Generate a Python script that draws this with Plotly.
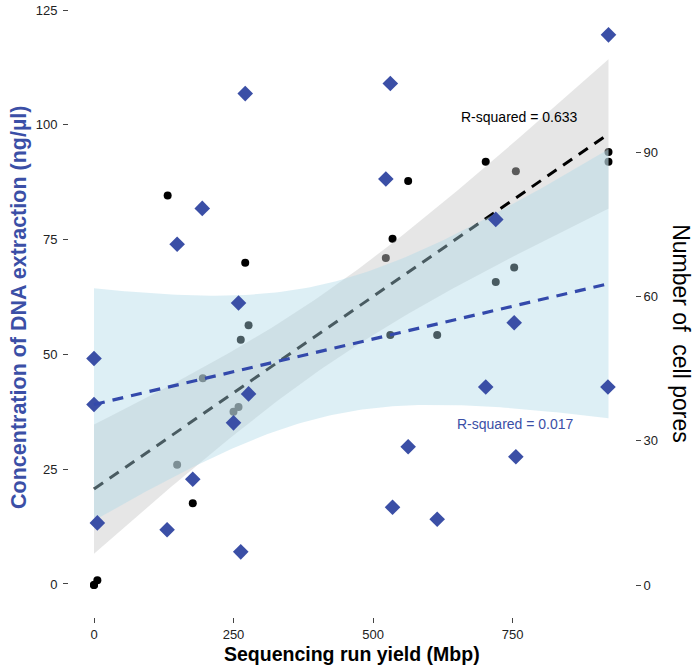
import numpy as np
import plotly.graph_objects as go

# ---- data ----
# DNA concentration (ng/µl) vs sequencing run yield (Mbp)  -> blue diamonds, left axis
yield_conc = [0, 0, 6, 131, 149, 177, 194, 250, 259, 263, 271, 277,
              523, 531, 535, 563, 615, 702, 720, 753, 756, 922, 921]
conc = [49.1, 39.1, 13.3, 11.8, 74.0, 22.8, 81.8, 35.1, 61.2, 7.0, 106.8, 41.4,
        88.2, 109.0, 16.7, 29.9, 14.1, 42.9, 79.4, 56.9, 27.7, 119.6, 42.9]

# Number of cell pores vs sequencing run yield (Mbp) -> black dots, right axis
yield_pores = [0, 0, 6, 132, 149, 177, 195, 250, 259, 263, 271, 277,
               523, 531, 535, 563, 615, 702, 720, 753, 756, 922, 922]
pores = [0, 0, 1, 81, 25, 17, 43, 36, 37, 51, 67, 54,
         68, 52, 72, 84, 52, 88, 63, 66, 86, 90, 88]

r2_pores_label = "R-squared = 0.633"
r2_conc_label = "R-squared = 0.017"

x_ticks = [0, 250, 500, 750]
conc_ticks = [0, 25, 50, 75, 100, 125]
pore_ticks = [0, 30, 60, 90]

T_975 = 2.0796  # t quantile, df = 21

BLUE = "#3b4fa6"
BLUE_LINE = "#3349ab"
FONT = "Liberation Sans, Arial, sans-serif"


def lm_band(x, y, n_grid=120):
    x = np.asarray(x, float)
    y = np.asarray(y, float)
    n = len(x)
    b, a = np.polyfit(x, y, 1)
    resid = y - (a + b * x)
    s = np.sqrt(np.sum(resid ** 2) / (n - 2))
    xm = x.mean()
    sxx = np.sum((x - xm) ** 2)
    g = np.linspace(x.min(), x.max(), n_grid)
    fit = a + b * g
    se = s * np.sqrt(1.0 / n + (g - xm) ** 2 / sxx)
    return g, fit, fit - T_975 * se, fit + T_975 * se


gp, fp, lp, hp = lm_band(yield_pores, pores)
gc, fc, lc, hc = lm_band(yield_conc, conc)

fig = go.Figure()

# --- pores group (drawn first, on axis y, shown on the right) ---
fig.add_trace(go.Scatter(
    x=yield_pores, y=pores, mode="markers", yaxis="y",
    marker=dict(symbol="circle", size=8, color="black"),
    showlegend=False, hoverinfo="skip"))
fig.add_trace(go.Scatter(
    x=np.concatenate([gp, gp[::-1]]), y=np.concatenate([lp, hp[::-1]]),
    fill="toself", fillcolor="rgba(200,200,200,0.45)", line=dict(width=0),
    mode="lines", yaxis="y", showlegend=False, hoverinfo="skip"))
fig.add_trace(go.Scatter(
    x=gp, y=fp, mode="lines", yaxis="y",
    line=dict(color="black", width=3, dash="11px,8px"),
    showlegend=False, hoverinfo="skip"))

# --- concentration group (drawn on top, on axis y2, shown on the left) ---
fig.add_trace(go.Scatter(
    x=np.concatenate([gc, gc[::-1]]), y=np.concatenate([lc, hc[::-1]]),
    fill="toself", fillcolor="rgba(173,216,230,0.42)", line=dict(width=0),
    mode="lines", yaxis="y2", showlegend=False, hoverinfo="skip"))
fig.add_trace(go.Scatter(
    x=yield_conc, y=conc, mode="markers", yaxis="y2",
    marker=dict(symbol="diamond", size=12, color=BLUE),
    showlegend=False, hoverinfo="skip"))
fig.add_trace(go.Scatter(
    x=gc, y=fc, mode="lines", yaxis="y2",
    line=dict(color=BLUE_LINE, width=3.2, dash="11px,8px"),
    showlegend=False, hoverinfo="skip"))

tick_common = dict(showgrid=False, zeroline=False, showline=False,
                   ticks="outside", ticklen=5, tickwidth=1.4, tickcolor="#444",
                   tickfont=dict(family=FONT, size=13, color="#222"))

fig.update_layout(
    width=694, height=666,
    margin=dict(l=69, r=59, t=5, b=49, autoexpand=False),
    paper_bgcolor="white", plot_bgcolor="white",
    font=dict(family=FONT),
    xaxis=dict(range=[-44.8, 969.5], tickvals=x_ticks,
               ticktext=[str(v) for v in x_ticks], **tick_common),
    yaxis=dict(range=[-6.65, 120.58], side="right", tickvals=pore_ticks,
               ticktext=[str(v) for v in pore_ticks], **tick_common),
    yaxis2=dict(range=[-7.19, 126.1], side="left", overlaying="y",
                tickvals=conc_ticks, ticktext=[str(v) for v in conc_ticks],
                ticklabelstandoff=3, **tick_common),
    annotations=[
        dict(text=r2_pores_label, x=763, y=101.7, xref="x", yref="y2",
             showarrow=False, font=dict(family=FONT, size=14, color="black")),
        dict(text=r2_conc_label, x=754.5, y=34.8, xref="x", yref="y2",
             showarrow=False, font=dict(family=FONT, size=14, color=BLUE)),
        dict(text="<b>Sequencing run yield (Mbp)</b>", x=0.5, y=-0.0605,
             xref="paper", yref="paper", showarrow=False,
             xanchor="center", yanchor="middle",
             font=dict(family=FONT, size=19.5, color="black")),
        dict(text="<b>Concentration of DNA extraction (ng/µl)</b>",
             x=-0.0883, y=0.505, xref="paper", yref="paper", showarrow=False,
             textangle=-90, xanchor="center", yanchor="middle",
             font=dict(family=FONT, size=21.5, color=BLUE)),
        dict(text="Number of \u00a0cell pores", x=1.081, y=0.4624,
             xref="paper", yref="paper", showarrow=False, textangle=90,
             xanchor="center", yanchor="middle",
             font=dict(family=FONT, size=23, color="black")),
    ],
)

fig.write_html(
    "out.html",
    config={"displayModeBar": False},
    post_script="document.body.style.margin='0';document.body.style.padding='0';",
)
